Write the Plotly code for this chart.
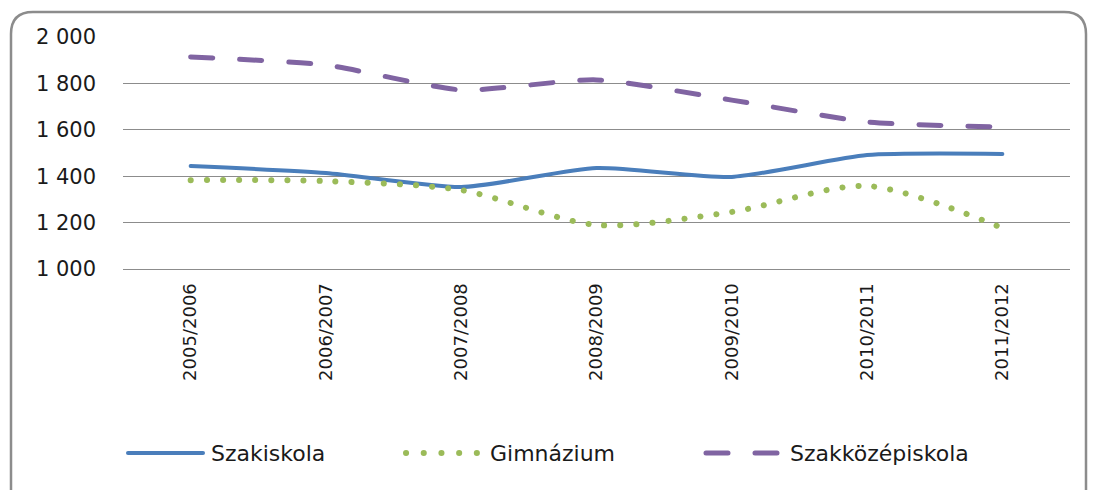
import plotly.graph_objects as go

categories = ["2005/2006", "2006/2007", "2007/2008", "2008/2009", "2009/2010", "2010/2011", "2011/2012"]
szakiskola = [1444, 1414, 1353, 1435, 1397, 1491, 1496]
gimnazium = [1383, 1379, 1340, 1190, 1246, 1358, 1177]
szakkozep = [1914, 1879, 1772, 1815, 1728, 1634, 1612]
series_names = ["Szakiskola", "Gimnázium", "Szakközépiskola"]
y_ticks = [1000, 1200, 1400, 1600, 1800, 2000]

BLUE = "#4A7EBB"
GREEN = "#9BBB59"
PURPLE = "#8064A2"
GRID = "#8C8C8C"
TEXT = "#1A1A1A"
FONT = "DejaVu Sans"

fig = go.Figure()
fig.add_trace(go.Scatter(x=categories, y=szakiskola, name=series_names[0], mode="lines",
                         line=dict(color=BLUE, width=4, shape="spline", smoothing=0.6)))
fig.add_trace(go.Scatter(x=categories, y=gimnazium, name=series_names[1], mode="lines",
                         line=dict(color=GREEN, width=6, shape="spline", smoothing=0.8, dash="0.1px,16px")))
fig.add_trace(go.Scatter(x=categories, y=szakkozep, name=series_names[2], mode="lines",
                         line=dict(color=PURPLE, width=5, shape="spline", smoothing=0.6, dash="22px,27px")))

W, H = 1093, 490
L, R, T, B = 123, 23, 37, 221
pw, ph = W - L - R, H - T - B

def px(x):
    return (x - L) / pw

def py(y):
    return (H - B - y) / ph

# rounded outer border
x0, x1, y0, y1 = px(11), px(1086), py(12), py(520)
rx, ry = 22 / pw, 22 / ph
path = (f"M {x0},{y1} L {x0},{y0 - ry} Q {x0},{y0} {x0 + rx},{y0} "
        f"L {x1 - rx},{y0} Q {x1},{y0} {x1},{y0 - ry} L {x1},{y1}")
shapes = [dict(type="path", xref="paper", yref="paper", path=path,
               line=dict(color="#8C8C8C", width=2.5))]

# manual legend
ly = py(453)
legend_items = [
    (series_names[0], BLUE, 4, "solid", 128, 203, 209),
    (series_names[1], GREEN, 6, "0.1px,17.6px", 406, 477, 488),
    (series_names[2], PURPLE, 5, "22px,27px", 706, 781, 788),
]
annotations = []
for name, col, w, dash, a, b, t in legend_items:
    shapes.append(dict(type="line", xref="paper", yref="paper", x0=px(a), x1=px(b), y0=ly, y1=ly,
                       line=dict(color=col, width=w, dash=dash)))
    annotations.append(dict(xref="paper", yref="paper", x=px(t),
                            y=ly, text=name, showarrow=False,
                            xanchor="left", yanchor="middle", font=dict(family=FONT, size=22, color=TEXT)))

fig.update_layout(
    width=W, height=H,
    margin=dict(l=L, r=R, t=T, b=B, autoexpand=False),
    paper_bgcolor="white", plot_bgcolor="white",
    showlegend=False,
    separators=", ",
    shapes=shapes,
    annotations=annotations,
    font=dict(family=FONT, size=19, color=TEXT),
)
fig.update_xaxes(type="category", range=[-0.5, len(categories) - 0.5], tickangle=-90,
                 showgrid=False, showline=True, linecolor=GRID, linewidth=1, zeroline=False,
                 ticks="", ticklabelstandoff=6, tickfont=dict(family=FONT, size=18, color=TEXT))
fig.update_yaxes(range=[1000, 2000], tickvals=y_ticks, tickformat=",d", showgrid=True,
                 gridcolor=GRID, gridwidth=1, zeroline=False, showline=False, ticks="",
                 ticklabelstandoff=26, tickfont=dict(family=FONT, size=21, color=TEXT))

post = """
document.body.style.margin='0';
document.querySelectorAll('.scatterlayer path.js-line, .shapelayer path').forEach(function(p){
  p.style.strokeLinecap='round';
});
"""
fig.write_html("out.html", post_script=post, config={"displayModeBar": False})
